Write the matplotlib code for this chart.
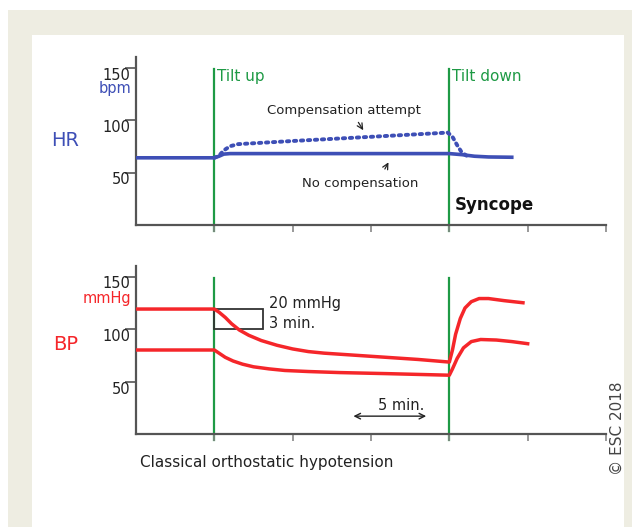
import matplotlib
matplotlib.use("Agg")
import matplotlib.pyplot as plt
from matplotlib.patches import Rectangle

# ---------------- data (minutes, values) ----------------
hr_none_t = [0, 5, 5.3, 5.6, 6.0, 10, 15, 20, 20.8, 21.6, 22.5, 24.1]
hr_none_v = [64, 64, 65.5, 67.5, 68, 68, 68, 68, 67, 65.5, 64.8, 64.5]

hr_comp_t = [5.0, 5.3, 5.6, 6.0, 6.5, 10, 15, 19.9, 20.2, 20.5, 20.8, 21.1]
hr_comp_v = [64, 66, 71, 75, 77, 80, 84, 88, 84, 76, 69, 66]

sys_t = [0, 5, 5.3, 5.7, 6.1, 6.6, 7.2, 8, 9, 10, 11, 12, 13, 14, 16, 18, 20,
         20.2, 20.4, 20.7, 21.0, 21.4, 21.9, 22.5, 23.5, 24.7]
sys_v = [119, 119, 116, 111, 105, 99, 94, 89, 84.5, 81, 78.5, 77, 76, 75, 73, 71, 68.5,
         80, 95, 110, 120, 126, 129, 129, 127, 125]

dia_t = [0, 5, 5.3, 5.7, 6.2, 6.8, 7.5, 8.5, 9.5, 11, 13, 16, 20,
         20.2, 20.5, 20.9, 21.4, 22.0, 23.0, 24.0, 25.0]
dia_v = [80, 80, 77, 73, 69.5, 66.5, 64, 62, 60.5, 59.5, 58.5, 57.5, 56,
         62, 72, 82, 88, 90, 89.5, 88, 86]

tilt_up_t = 5
tilt_down_t = 20
x_ticks = [5, 10, 15, 20, 25, 30]
y_ticks = [50, 100, 150]
y_ticklabels = ["50", "100", "150"]

BLUE = "#3e4fb6"
RED = "#f5262a"
GREEN = "#1e9a45"
AXC = "#555555"
TXT = "#222222"
BEIGE = "#eeede2"

W, H = 632, 527
fig = plt.figure(figsize=(W / 100, H / 100), dpi=100)
fig.patch.set_facecolor("white")

def px(x0, y0, x1, y1):
    return [x0 / W, 1 - y1 / H, (x1 - x0) / W, (y1 - y0) / H]

# frame
fig.patches.append(Rectangle((8 / W, 0), (W - 8) / W, (H - 10) / H, transform=fig.transFigure,
                             facecolor=BEIGE, edgecolor="none", zorder=-10))
fig.patches.append(Rectangle((32 / W, 0), (624 - 32) / W, (H - 35) / H, transform=fig.transFigure,
                             facecolor="white", edgecolor="none", zorder=-9))

ax1 = fig.add_axes(px(136, 57, 606, 225))
ax2 = fig.add_axes(px(136, 266, 606, 434))

for ax in (ax1, ax2):
    ax.set_facecolor("none")
    ax.set_xlim(0, 30)
    ax.set_ylim(0, 160)
    for s in ("top", "right"):
        ax.spines[s].set_visible(False)
    for s in ("left", "bottom"):
        ax.spines[s].set_color(AXC)
        ax.spines[s].set_linewidth(1.6)
    ax.set_xticks(x_ticks)
    ax.set_xticklabels([])
    ax.tick_params(axis="x", length=5, width=1.2, color="#888888", direction="out")
    ax.set_yticks(y_ticks)
    ax.set_yticklabels(y_ticklabels, fontsize=10.5, color=TXT)
    ax.tick_params(axis="y", length=8, width=1.2, color=AXC, direction="out", pad=-4)
    for lab in ax.get_yticklabels():
        lab.set_verticalalignment("top")
    for t in (tilt_up_t, tilt_down_t):
        ax.plot([t, t], [-6, 149], color=GREEN, lw=1.6, clip_on=False, zorder=1)

# ---- HR panel ----
ax1.plot(hr_none_t, hr_none_v, color=BLUE, lw=2.6, solid_capstyle="butt", zorder=3)
ax1.plot(hr_comp_t, hr_comp_v, color=BLUE, lw=2.8, linestyle=(0, (0.6, 1.2)),
         dash_capstyle="round", zorder=3)
ax1.text(5.15, 149, "Tilt up", color=GREEN, fontsize=11, va="top", ha="left")
ax1.text(20.15, 149, "Tilt down", color=GREEN, fontsize=11, va="top", ha="left")
ax1.text(13.3, 109, "Compensation attempt", fontsize=9.5, color=TXT, ha="center", va="center")
ax1.annotate("", xy=(14.6, 88), xytext=(14.1, 100),
             arrowprops=dict(arrowstyle="->", color=TXT, lw=0.9))
ax1.text(14.3, 40, "No compensation", fontsize=9.5, color=TXT, ha="center", va="center")
ax1.annotate("", xy=(16.2, 62), xytext=(15.8, 51),
             arrowprops=dict(arrowstyle="->", color=TXT, lw=0.9))
ax1.text(20.35, 19, "Syncope", fontsize=12, fontweight="bold", color="#111111",
         ha="left", va="center")
ax1.text(-0.3, 137, "bpm", color=BLUE, fontsize=10.5, ha="right", va="top")

# ---- BP panel ----
ax2.plot(sys_t, sys_v, color=RED, lw=2.5, zorder=3)
ax2.plot(dia_t, dia_v, color=RED, lw=2.5, zorder=3)
ax2.add_patch(Rectangle((5, 100), 3.1, 19, facecolor="none", edgecolor="#333333", lw=1.3, zorder=2))
ax2.text(8.5, 124, "20 mmHg", fontsize=10.5, color=TXT, ha="left", va="center")
ax2.text(8.5, 105, "3 min.", fontsize=10.5, color=TXT, ha="left", va="center")
ax2.annotate("", xy=(13.7, 17), xytext=(18.7, 17),
             arrowprops=dict(arrowstyle="<->", color=TXT, lw=1.0))
ax2.text(16.9, 27, "5 min.", fontsize=10.5, color=TXT, ha="center", va="center")
ax2.text(-0.3, 136, "mmHg", color=RED, fontsize=10.5, ha="right", va="top")

# side labels
fig.text(65 / W, 1 - 140 / H, "HR", color=BLUE, fontsize=14, ha="center", va="center")
fig.text(66 / W, 1 - 345 / H, "BP", color=RED, fontsize=14, ha="center", va="center")
fig.text(140 / W, 1 - 462 / H, "Classical orthostatic hypotension", fontsize=11,
         color=TXT, ha="left", va="center")
fig.text(617 / W, 1 - 428 / H, "© ESC 2018", fontsize=11, color="#444444", rotation=90,
         ha="center", va="center")

fig.savefig("out.png", dpi=100, facecolor=fig.get_facecolor())
